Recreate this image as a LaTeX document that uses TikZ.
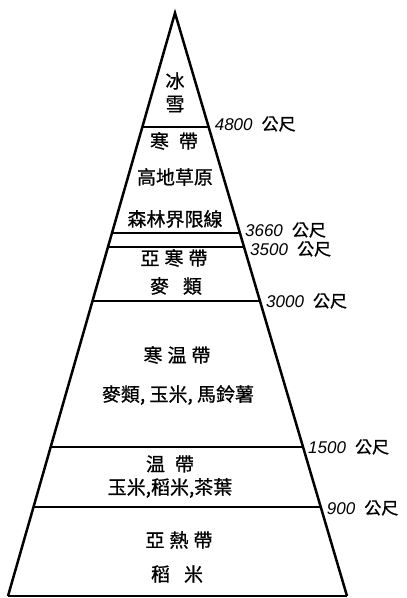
\documentclass[tikz,border=0pt]{standalone}
\usepackage{fontspec}
\newfontfamily\cjk[FakeBold=0.8]{Noto Sans CJK TC}
\newfontfamily\numf{Liberation Sans}
\usetikzlibrary{calc}
\tikzset{
  edge/.style={line width=2.5pt, line join=miter},
  zone/.style={line width=1.4pt},
  zt/.style={font=\cjk\fontsize{19}{19}\selectfont, inner sep=0pt},
  alt/.style={font=\numf\itshape\fontsize{17}{17}\selectfont, inner sep=0pt, anchor=west},
}
\newcommand{\gp}{\hspace{5pt}}
\newcommand{\gongchi}{\hspace{9pt}{\cjk\upshape\fontsize{17}{17}\selectfont 公尺}}
\begin{document}
\begin{tikzpicture}[x=1pt,y=-1pt]
\useasboundingbox[fill=white] (0,0) rectangle (407,598);
\coordinate (apex) at (175,13);
\coordinate (bl) at (8,596);
\coordinate (br) at (347,596);
\draw[edge] (bl) -- (apex) -- (br);
\draw[zone] (bl) -- (br);
\foreach \n/\t in {a/0.1955, b/0.3774, c/0.4014, d/0.4940, e/0.7444, f/0.8473} {
  \coordinate (L\n) at ($(apex)!\t!(bl)$);
  \coordinate (R\n) at ($(apex)!\t!(br)$);
  \draw[zone] (L\n) -- (R\n);
}
% zone texts
\node[zt] (t1) at (175,81) {冰};
\node[zt] (t2) at (175,104) {雪};
\node[zt] (t3) at (174,141) {寒\hspace{10pt}帶};
\node[zt] (t4) at (175,177) {高地草原};
\node[zt] (t5) at (175,219) {森林界限線};
\node[zt] (t6) at (174,258) {亞\gp 寒\gp 帶};
\node[zt] (t7) at (176,286) {麥\hspace{14pt}類};
\node[zt] (t8) at (177,355) {寒\gp 温\gp 帶};
\node[zt] (t9) at (178,395) {麥類, 玉米, 馬鈴薯};
\node[zt] (t10) at (170,464) {温\hspace{10pt}帶};
\node[zt] (t11) at (170,488) {玉米,稻米,茶葉};
\node[zt] (t12) at (179,540) {亞\gp 熱\gp 帶};
\node[zt] (t13) at (177,574) {稻\hspace{14pt}米};
% altitude labels
\node[alt] (h1) at ([shift={(6,-3)}]Ra) {4800\gongchi};
\node[alt] (h2) at ([shift={(5,-3)}]Rb) {3660\gongchi};
\node[alt] (h3) at ([shift={(6,2)}]Rc) {3500\gongchi};
\node[alt] (h4) at ([shift={(6,0)}]Rd) {3000\gongchi};
\node[alt] (h5) at ([shift={(5,0)}]Re) {1500\gongchi};
\node[alt] (h6) at ([shift={(6,1)}]Rf) {900\gongchi};
\end{tikzpicture}
\end{document}
